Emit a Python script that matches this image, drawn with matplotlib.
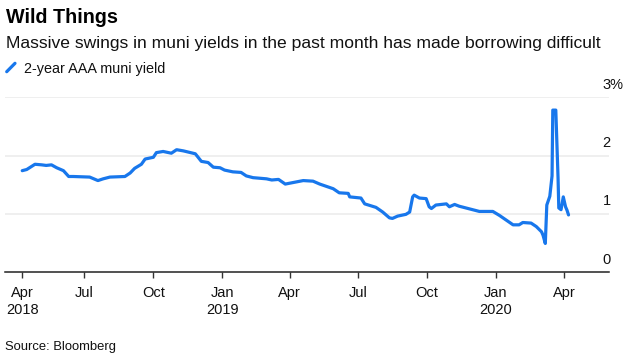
import pandas as pd
import matplotlib
matplotlib.use("Agg")
import matplotlib.pyplot as plt
from matplotlib.lines import Line2D
# ----------------------------------------------------------------------------------------------------------------------

# Chart Text
TITLE    = "Wild Things"
SUBTITLE = "Massive swings in muni yields in the past month has made borrowing difficult"
SERIES   = "2-year AAA muni yield"
SOURCE   = "Source: Bloomberg"

# 2-Year AAA Muni Yield (%)
dates = ["2018-04-09", "2018-04-15", "2018-04-26", "2018-05-05", "2018-05-11", "2018-05-18", "2018-05-25",
         "2018-06-03", "2018-06-10", "2018-06-16", "2018-07-08", "2018-07-19", "2018-07-26", "2018-08-04",
         "2018-08-24", "2018-08-31", "2018-09-06", "2018-09-15", "2018-09-20", "2018-10-01", "2018-10-05",
         "2018-10-14", "2018-10-25", "2018-11-01", "2018-11-10", "2018-11-26", "2018-12-04", "2018-12-13",
         "2018-12-20", "2018-12-29", "2019-01-04", "2019-01-15", "2019-01-26", "2019-02-02", "2019-02-11",
         "2019-03-01", "2019-03-08", "2019-03-17", "2019-03-26", "2019-04-03", "2019-04-19", "2019-05-02",
         "2019-05-11", "2019-05-20", "2019-05-29", "2019-06-06", "2019-06-18", "2019-06-20", "2019-07-05",
         "2019-07-10", "2019-07-25", "2019-08-03", "2019-08-12", "2019-08-16", "2019-08-23", "2019-09-03",
         "2019-09-08", "2019-09-12", "2019-09-14", "2019-09-21", "2019-09-30", "2019-10-04", "2019-10-07",
         "2019-10-13", "2019-10-27", "2019-10-31", "2019-11-07", "2019-11-13", "2019-11-22", "2019-12-10",
         "2019-12-28", "2020-01-06", "2020-01-15", "2020-01-24", "2020-02-01", "2020-02-06", "2020-02-17",
         "2020-02-24", "2020-03-02", "2020-03-04", "2020-03-07", "2020-03-09", "2020-03-13", "2020-03-16",
         "2020-03-17", "2020-03-21", "2020-03-24", "2020-03-25", "2020-03-28", "2020-03-31", "2020-04-03",
         "2020-04-05", "2020-04-07"]

yields = [1.74, 1.76, 1.85, 1.84, 1.83, 1.84, 1.79,
          1.74, 1.64, 1.64, 1.63, 1.57, 1.60, 1.63,
          1.64, 1.70, 1.78, 1.85, 1.94, 1.97, 2.05,
          2.07, 2.04, 2.10, 2.08, 2.03, 1.90, 1.88,
          1.80, 1.79, 1.75, 1.72, 1.71, 1.65, 1.62,
          1.60, 1.58, 1.59, 1.51, 1.53, 1.57, 1.56,
          1.51, 1.47, 1.43, 1.36, 1.35, 1.29, 1.27,
          1.17, 1.11, 1.03, 0.93, 0.92, 0.96, 0.99,
          1.03, 1.29, 1.32, 1.27, 1.26, 1.12, 1.09,
          1.15, 1.17, 1.12, 1.16, 1.13, 1.10, 1.04,
          1.04, 0.97, 0.89, 0.81, 0.81, 0.85, 0.84,
          0.78, 0.69, 0.63, 0.49, 1.15, 1.30, 1.65,
          2.78, 2.78, 1.62, 1.10, 1.07, 1.29, 1.12,
          1.06, 0.98]

# Axis Ticks & Labels
tick_dates  = ["2018-04-09", "2018-07-01", "2018-10-01", "2019-01-01", "2019-04-01",
               "2019-07-01", "2019-10-01", "2020-01-01", "2020-04-01"]
tick_labels = ["Apr\n2018", "Jul", "Oct", "Jan\n2019", "Apr", "Jul", "Oct", "Jan\n2020", "Apr"]
y_ticks     = [0, 1, 2, 3]
y_labels    = ["0", "1", "2", "3%"]
x_range     = ["2018-03-17", "2020-05-31"]

# Colours
BLUE  = "#1877ec"
GRID  = "#ececec"
TEXT  = "#111111"
# ----------------------------------------------------------------------------------------------------------------------


# Build The Frame
df = pd.DataFrame({"date": pd.to_datetime(dates), "yield": yields})

plt.rcParams["font.family"] = ["Liberation Sans", "DejaVu Sans"]

# Figure & Axes Placement (628 x 358 px)
W, H = 628, 358
fig = plt.figure(figsize=(W / 100, H / 100), dpi=100)
ax  = fig.add_axes([5 / W, 1 - 272 / H, 604 / W, (272 - 97.3) / H])

# Gridlines Behind Everything
for v in y_ticks[1:]:
    ax.axhline(v, color=GRID, lw=1.2, zorder=0)

# Plot The Series
ax.plot(df["date"], df["yield"], color=BLUE, lw=2.3, solid_joinstyle="round",
        solid_capstyle="round", zorder=3, clip_on=False)

# Axis Styling
ax.set_xlim(pd.to_datetime(x_range[0]), pd.to_datetime(x_range[1]))
ax.set_ylim(0, 3)
for side in ["top", "right", "left"]:
    ax.spines[side].set_visible(False)
ax.spines["bottom"].set_color("#222222")
ax.spines["bottom"].set_linewidth(1.1)
ax.set_yticks([])

ax.set_xticks(pd.to_datetime(tick_dates))
ax.set_xticklabels(tick_labels, fontsize=10.5, color=TEXT, linespacing=1.3)
ax.tick_params(axis="x", length=4, width=1, color="#333333", pad=6)

# Y Labels Sit Above Their Gridlines On The Right
for v, lab in zip(y_ticks, y_labels):
    ax.annotate(lab, xy=(0.9895, v), xycoords=ax.get_yaxis_transform(), xytext=(0, 6),
                textcoords="offset points", ha="left", va="baseline", fontsize=10.5, color=TEXT)

# Header Text
fig.text(6 / W, 1 - 22.7 / H, TITLE, fontsize=14.2, fontweight="bold", color="#000000", va="baseline")
fig.text(6 / W, 1 - 47.7 / H, SUBTITLE, fontsize=12.6, color=TEXT, va="baseline")

# Legend Swatch (Short Slanted Line) & Label
fig.add_artist(Line2D([6.7 / W, 15 / W], [1 - 71.7 / H, 1 - 63.3 / H], color=BLUE, lw=2.3,
                      solid_capstyle="round"))
fig.text(24 / W, 1 - 72.7 / H, SERIES, fontsize=10.4, color=TEXT, va="baseline")

# Footer
fig.text(5 / W, 1 - 350 / H, SOURCE, fontsize=9.4, color=TEXT, va="baseline")

plt.savefig("out.png", dpi=100)
